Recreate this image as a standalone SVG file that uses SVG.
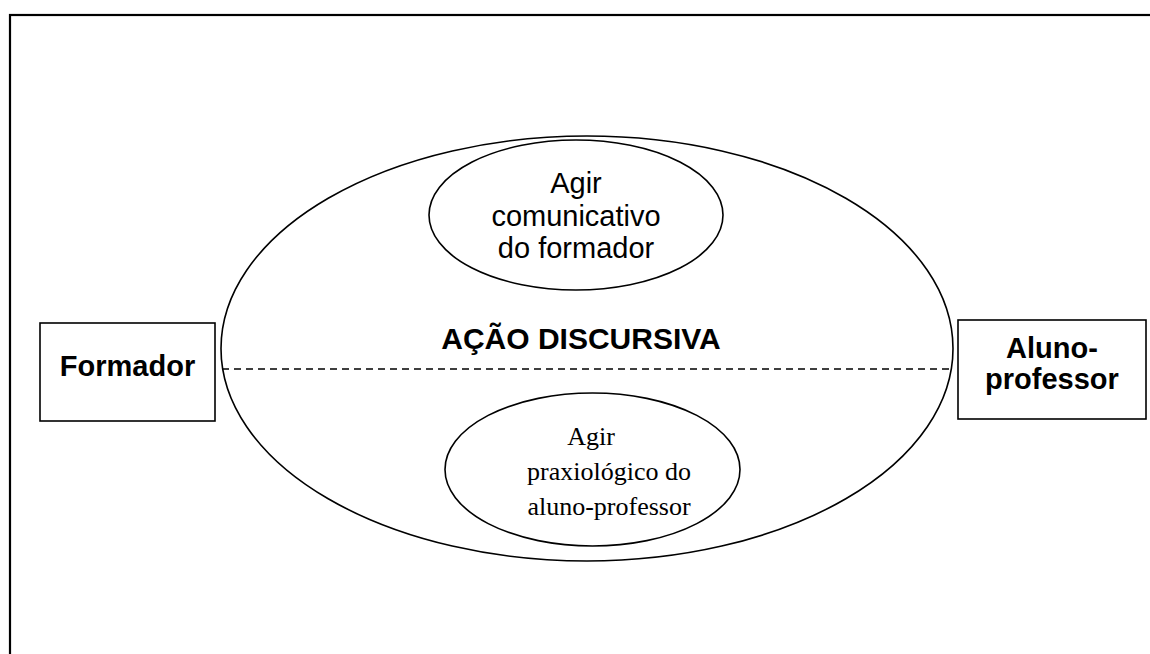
<svg xmlns="http://www.w3.org/2000/svg" width="1150" height="654" viewBox="0 0 1150 654">
<style>
.ln{fill:none;stroke:#000;stroke-width:1.6}
.sans{font-family:"Liberation Sans",Arial,sans-serif;fill:#000}
.b{font-weight:bold}
.serif{font-family:"Liberation Serif","Times New Roman",serif;fill:#000}
</style>
<rect x="0" y="0" width="1150" height="654" fill="#fff"/>
<rect x="10" y="15" width="1170" height="670" fill="none" stroke="#000" stroke-width="2.2"/>
<g id="acao-discursiva">
<ellipse class="ln" cx="587" cy="348.5" rx="366" ry="212.5" stroke-width="2"/>
<text class="sans b" x="581" y="349" font-size="30" text-anchor="middle">AÇÃO DISCURSIVA</text>
</g>
<g id="connectors">
<line x1="222" y1="369" x2="952" y2="369" stroke="#000" stroke-width="1.4" stroke-dasharray="7,5"/>
</g>
<g id="agir-comunicativo">
<ellipse class="ln" cx="576" cy="215" rx="147" ry="75"/>
<text class="sans" font-size="29" text-anchor="middle"><tspan x="576" y="193">Agir</tspan><tspan x="576" y="226">comunicativo</tspan><tspan x="576" y="258">do formador</tspan></text>
</g>
<g id="agir-praxiologico">
<ellipse class="ln" cx="592.5" cy="469.5" rx="147.5" ry="76.5"/>
<text class="serif" font-size="26" text-anchor="middle"><tspan x="591" y="445">Agir</tspan><tspan x="609" y="480">praxiológico do</tspan><tspan x="609" y="515">aluno-professor</tspan></text>
</g>
<g id="formador">
<rect class="ln" x="40" y="323" width="175" height="98"/>
<text class="sans b" x="127.5" y="376" font-size="29" text-anchor="middle">Formador</text>
</g>
<g id="aluno-professor">
<rect class="ln" x="958" y="320" width="188" height="99"/>
<text class="sans b" font-size="29" text-anchor="middle"><tspan x="1052" y="358">Aluno-</tspan><tspan x="1052" y="389">professor</tspan></text>
</g>
</svg>
